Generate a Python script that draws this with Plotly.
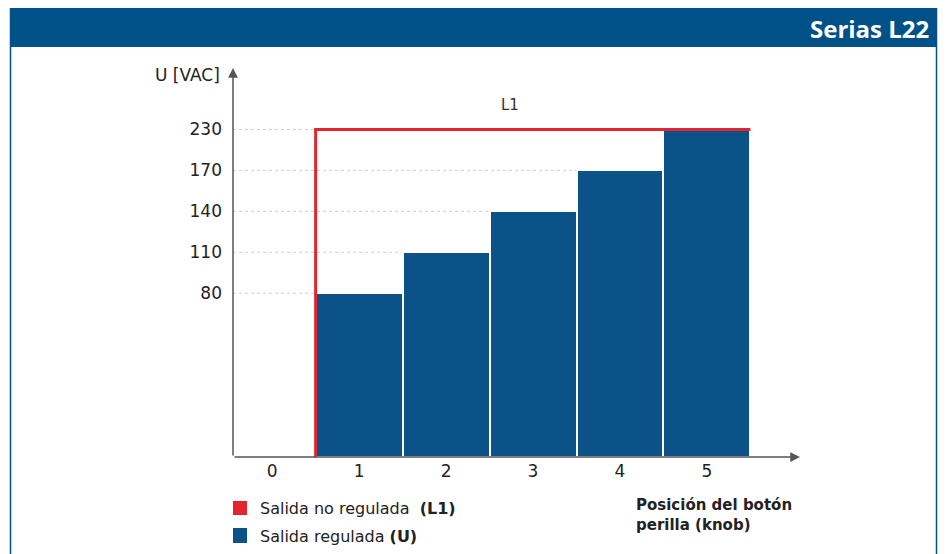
import numpy as np
import plotly.graph_objects as go

# ---- data ----
positions = [1, 2, 3, 4, 5]                 # knob positions with regulated output
regulated_u = [80, 110, 140, 170, 230]      # U [VAC]
unregulated_l1 = 230                         # L1 [VAC]
x_ticks = [0, 1, 2, 3, 4, 5]
x_tick_labels = ["0", "1", "2", "3", "4", "5"]
y_tick_values = [80, 110, 140, 170, 230]
y_tick_labels = ["80", "110", "140", "170", "230"]
# schematic (non-linear) voltage scale used in the reference: each tick one step
y_tick_levels = [4, 5, 6, 7, 8]

def to_level(v):
    return np.interp(v, [0] + y_tick_values, [0] + y_tick_levels)

OFF = 8  # page body margin
W, H = 947 - 2 * OFF, 554 - OFF
PL, PR, PT, PB = 233, 800, 68, 457   # plot area in window pixels
L = PL - OFF
T = PT - OFF
R = W - (PR - OFF)
B = H - (PB - OFF)
XR = [-0.45, 6.07]
YR = [0, 9.5]
pw, ph = PR - PL, PB - PT

def px(xpix):
    return (xpix - PL) / pw

def py(ypix):
    return (PB - ypix) / ph

BLUE = "#0a5287"
HEADER = "#015189"
RED = "#e4252f"
FONT = "DejaVu Sans"

fig = go.Figure()

fig.add_trace(go.Bar(
    x=positions, y=to_level(regulated_u), width=1.0,
    marker=dict(color=BLUE, line=dict(color="white", width=2)),
    hovertext=[f"{v} VAC" for v in regulated_u], showlegend=False,
))

l1_level = float(to_level(unregulated_l1))
edge_left = positions[0] - 0.5
edge_right = positions[-1] + 0.5
fig.add_trace(go.Scatter(
    x=[edge_left, edge_left, edge_right], y=[0, l1_level, l1_level],
    mode="lines", line=dict(color=RED, width=3), showlegend=False,
    hoverinfo="skip",
))

shapes = []
# dotted gridlines
for lv in y_tick_levels:
    shapes.append(dict(type="line", xref="x", yref="y", x0=XR[0], x1=edge_right,
                       y0=lv, y1=lv, layer="below",
                       line=dict(color="#d0d0d0", width=1, dash="dot")))
# header band and border
shapes.append(dict(type="rect", xref="paper", yref="paper",
                   x0=px(10), x1=px(937), y0=py(8), y1=py(47),
                   fillcolor=HEADER, line=dict(width=0), layer="below"))
shapes.append(dict(type="rect", xref="paper", yref="paper",
                   x0=px(10.5), x1=px(936.5), y0=py(8), y1=py(570),
                   fillcolor="rgba(0,0,0,0)", line=dict(color=HEADER, width=1.5)))
# legend squares
shapes.append(dict(type="rect", xref="paper", yref="paper",
                   x0=px(233), x1=px(247), y0=py(501), y1=py(515),
                   fillcolor=RED, line=dict(width=0)))
shapes.append(dict(type="rect", xref="paper", yref="paper",
                   x0=px(233), x1=px(247), y0=py(528), y1=py(543),
                   fillcolor=BLUE, line=dict(width=0)))

ann = []
# axis arrows
ann.append(dict(x=XR[1], y=0, ax=XR[0], ay=0, xref="x", yref="y", axref="x", ayref="y",
                showarrow=True, arrowhead=2, arrowsize=1.3, arrowwidth=1.5,
                arrowcolor="#555555", text=""))
ann.append(dict(x=XR[0], y=YR[1], ax=XR[0], ay=0, xref="x", yref="y", axref="x", ayref="y",
                showarrow=True, arrowhead=2, arrowsize=1.3, arrowwidth=1.5,
                arrowcolor="#555555", text=""))
ann.append(dict(x=px(222), y=py(75), xref="paper", yref="paper", xanchor="right",
                yanchor="middle", text="U [VAC]", showarrow=False,
                font=dict(family=FONT, size=17, color="#222")))
ann.append(dict(x=px(510), y=8.6, xref="paper", yref="y", text="L1", showarrow=False,
                font=dict(family=FONT, size=15, color="#333")))
ann.append(dict(x=px(931), y=py(28), xref="paper", yref="paper", xanchor="right",
                yanchor="middle", text="<b>Serias L22</b>", showarrow=False,
                font=dict(family="Open Sans", size=24, color="white")))
ann.append(dict(x=px(258), y=py(508), xref="paper", yref="paper", xanchor="left",
                yanchor="middle", text="Salida no regulada  <b>(L1)</b>", showarrow=False,
                font=dict(family=FONT, size=16, color="#222")))
ann.append(dict(x=px(258), y=py(536), xref="paper", yref="paper", xanchor="left",
                yanchor="middle", text="Salida regulada <b>(U)</b>", showarrow=False,
                font=dict(family=FONT, size=16, color="#222")))
ann.append(dict(x=px(634), y=py(515), xref="paper", yref="paper", xanchor="left",
                yanchor="middle", align="left",
                text="<b>Posición del botón<br>perilla (knob)</b>", showarrow=False,
                font=dict(family=FONT, size=15, color="#222")))

fig.update_layout(
    width=W, height=H, margin=dict(l=L, r=R, t=T, b=B),
    paper_bgcolor="white", plot_bgcolor="white",
    shapes=shapes, annotations=ann, bargap=0,
    xaxis=dict(range=XR, tickvals=x_ticks, ticktext=x_tick_labels, showgrid=False,
               zeroline=False, showline=False, ticks="", ticklabelstandoff=2,
               tickfont=dict(family=FONT, size=17, color="#222")),
    yaxis=dict(range=YR, tickvals=y_tick_levels, ticktext=y_tick_labels, showgrid=False,
               zeroline=False, showline=False, ticks="", ticklabelstandoff=10,
               tickfont=dict(family=FONT, size=17, color="#222")),
)

fig.write_html("out.html")
